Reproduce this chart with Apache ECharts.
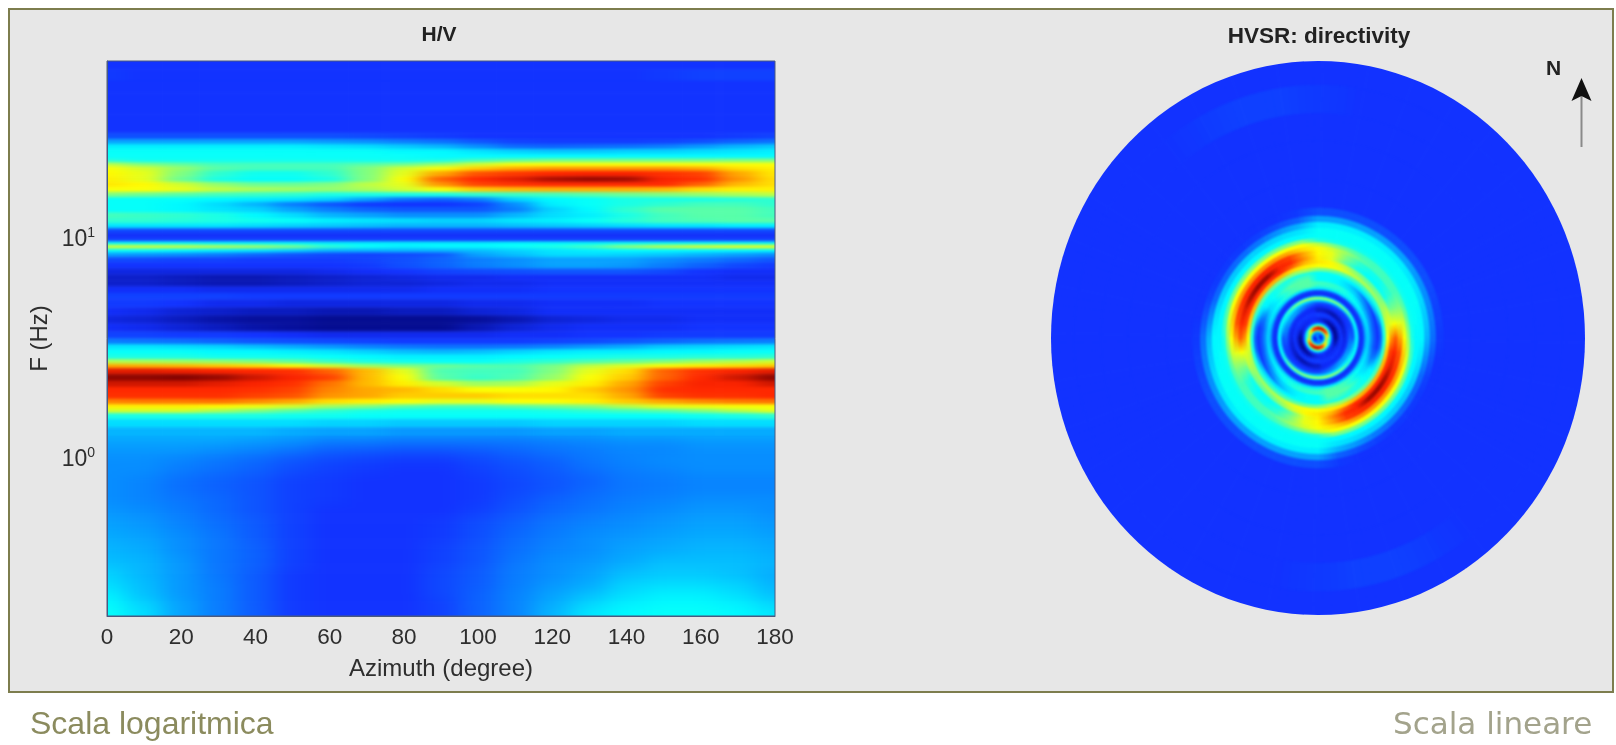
<!DOCTYPE html>
<html><head><meta charset="utf-8">
<style>
html,body{margin:0;padding:0;background:#fff;overflow:hidden}
#main{width:1616px;height:745px}
canvas[data-zr-dom-id="zr_1"]{filter:url(#softRect);clip-path:inset(61px 841px 129px 107px)}
canvas[data-zr-dom-id="zr_2"]{filter:url(#softDisc);clip-path:ellipse(267px 277px at 1318px 338px)}
canvas[data-zr-dom-id="zr_3"]{filter:url(#softLow);clip-path:inset(437px 841px 129px 107px)}
canvas[data-zr-dom-id="zr_5"]{filter:blur(0.7px)}
</style>
<script src="https://cdn.jsdelivr.net/npm/echarts@6/dist/echarts.min.js"></script>
</head><body>
<svg width="0" height="0" style="position:absolute">
<filter id="softRect" x="0" y="0" width="100%" height="100%" color-interpolation-filters="sRGB"><feGaussianBlur stdDeviation="11 1.7"/></filter>
<filter id="softLow" x="0" y="0" width="100%" height="100%" color-interpolation-filters="sRGB"><feGaussianBlur stdDeviation="12 6"/></filter>
<filter id="softDisc" x="0" y="0" width="100%" height="100%" color-interpolation-filters="sRGB"><feGaussianBlur stdDeviation="1.3"/></filter>
</svg>
<div id="main"></div>
<script>
const azimuths=[0,10,20,30,40,50,60,70,80,90,100,110,120,130,140,150,160,170,180];
const freqs=[62,56,49,43.0,31.5,29.2,27.7,26.3,25.0,23.7,22.7,21.8,20.9,19.9,18.6,17.7,16.8,15.9,15.1,14.4,13.6,12.8,12.1,11.5,10.9,10.4,9.95,9.54,9.25,8.87,8.51,8.07,7.58,7.11,6.68,6.28,5.89,5.53,5.09,4.68,4.31,3.96,3.64,3.42,3.24,3.08,2.92,2.77,2.66,2.53,2.35,2.20,2.07,1.94,1.82,1.73,1.66,1.58,1.47,1.33,1.20,1.10,0.995,0.896,0.807,0.726,0.655,0.577,0.504,0.444,0.388,0.342,0.299,0.269,0.242,0.223,0.203];
const xTicks=[0,20,40,60,80,100,120,140,160,180];
const yDecades=[1,10];
const t01=[13,13,13,13,13,13,13,13,13,13,13,13,13,13,13,13,13,13,13];
const t02=[14,13,13,13,13,13,13,13,13,13,13,13,13,13,13,14,15,15,15];
const r01=[13,13,13,13,13,13,13,13,13,13,13,13,13,13,13,13,13,13,13];
const r02=[13,13,13,13,13,13,13,13,13,13,13,13,13,13,13,13,13,13,13];
const r03=[13,13,13,13,13,13,13,13,13,13,13,13,13,13,13,13,13,13,13];
const r04=[17,17,17,17,17,17,17,16,15,14,13,13,13,13,13,13,13,14,15];
const r05=[28,28,28,28,28,28,27,26,24,22,18,15,14,14,14,15,17,20,22];
const r06=[36,36,36,36,36,36,35,34,32,30,26,21,20,21,22,24,27,30,32];
const r07=[38,38,38,38,38,38,38,38,37,37,35,33,32,32,33,33,34,35,36];
const r08=[38,38,38,38,38,38,38,38,38,37,37,37,37,37,37,37,37,37,37];
const r09=[41,39,39,39,39,39,39,39,39,40,44,47,49,49,49,49,49,50,50];
const r10=[56,50,47,44,44,44,44,46,48,52,58,62,62,62,62,62,62,62,62];
const r11=[62,58,52,46,44,44,44,50,58,62,68,72,74,74,74,74,72,66,64];
const r12=[63,60,50,42,39,39,42,50,60,72,82,85,87,88,88,86,84,72,65];
const r13=[64,60,48,40,38,38,40,50,62,80,87,90,95,97,96,88,86,74,66];
const r14=[65,63,58,52,48,48,50,56,60,74,84,86,87,87,87,87,80,70,66];
const r15=[62,62,60,56,54,53,52,54,58,62,68,70,71,71,71,70,66,64,64];
const r16=[50,48,46,44,43,42,40,40,40,40,42,43,44,46,48,50,52,54,56];
const r17=[38,38,38,37,36,35,33,28,22,20,24,33,37,38,40,40,40,41,42];
const r18=[38,38,37,34,30,24,18,14,13,13,15,26,36,38,40,42,44,44,42];
const r19=[38,38,37,35,33,28,24,20,18,18,18,24,33,37,42,46,46,46,44];
const r20=[44,43,42,40,37,34,30,28,26,26,26,30,34,36,40,44,46,46,44];
const r21=[42,42,41,40,39,38,36,35,34,33,33,35,36,38,41,44,45,46,46];
const r22=[35,35,35,35,34,33,32,31,30,30,30,31,32,33,34,35,35,36,36];
const r23=[16,16,16,16,16,16,16,16,16,16,16,16,16,16,16,16,16,16,16];
const r24=[12,12,12,12,12,12,12,12,12,12,12,12,12,12,12,12,12,12,12];
const r25=[14,14,14,14,14,14,14,14,14,14,14,14,14,14,14,14,14,14,14];
const r26=[38,38,38,37,37,37,36,36,36,36,36,37,37,37,38,38,38,38,38];
const r27=[60,59,58,56,54,50,42,38,36,37,37,38,40,44,52,57,60,62,62];
const r28=[38,38,37,36,35,33,30,30,30,30,31,33,35,36,37,37,37,37,37];
const r29=[28,27,26,24,21,18,16,15,16,18,28,31,34,34,33,32,30,28,26];
const r30=[16,16,15,15,14,14,14,15,17,20,24,26,28,28,28,26,24,21,18];
const r31=[13,13,13,13,13,13,13,14,17,20,24,26,28,28,27,24,20,16,14];
const r32=[10,10,10,10,10,10,11,12,13,15,16,17,18,18,18,16,13,12,12];
const r33=[8,8,7,6,6,7,8,9,10,11,11,12,12,12,12,12,12,11,11];
const r34=[8,8,7,6,6,7,8,9,9,10,11,11,12,12,12,12,12,12,12];
const r35=[12,12,12,11,11,11,11,11,11,12,12,12,13,13,13,13,13,13,13];
const r36=[15,15,15,15,14,14,14,14,14,14,14,14,14,14,14,14,14,14,14];
const r37=[14,14,13,11,11,10,10,10,10,10,11,11,12,12,12,13,13,13,13];
const r38=[12,11,9,8,7,7,6,6,7,7,9,10,12,12,12,12,12,12,12];
const r39=[10,9,7,5,4,4,3,3,3,3,4,6,9,10,11,11,12,12,12];
const r40=[12,11,9,7,5,4,3,3,3,3,6,9,11,12,12,12,13,13,13];
const r41=[15,15,14,14,13,12,11,11,11,11,11,12,12,13,13,14,14,14,14];
const r42=[24,23,22,20,18,17,16,15,14,14,14,14,15,16,18,20,22,23,24];
const r43=[35,35,34,33,31,29,27,25,23,22,22,23,25,27,29,32,33,34,35];
const r44=[38,38,38,37,37,36,35,33,31,30,31,33,35,36,36,37,37,38,38];
const r45=[40,40,40,39,39,39,38,37,36,36,36,37,38,39,40,40,41,41,42];
const r46=[55,54,53,52,50,47,43,40,39,38,38,40,42,45,47,50,53,55,58];
const r47=[72,71,70,68,66,62,58,53,50,48,46,45,49,56,59,62,64,66,68];
const r48=[90,90,89,88,87,86,80,70,60,45,44,44,50,60,66,80,86,88,90];
const r49=[98,98,99,97,92,88,84,70,62,46,43,45,52,62,68,80,87,92,98];
const r50=[92,92,92,90,88,86,78,70,64,58,53,54,60,64,72,84,88,88,92];
const r51=[87,87,87,87,86,84,76,72,70,66,62,62,63,68,74,86,87,87,87];
const r52=[86,86,86,86,84,82,74,72,68,68,68,66,66,66,72,84,86,86,87];
const r53=[76,77,77,78,75,72,66,64,62,60,60,62,62,64,68,72,75,77,78];
const r54=[64,64,64,63,61,58,53,50,46,44,44,46,48,50,55,60,61,62,62];
const r55=[58,58,58,54,50,46,42,40,39,39,39,39,40,42,44,46,50,55,60];
const r56=[40,40,40,40,40,39,39,38,38,38,38,38,38,38,38,38,39,40,42];
const r57=[34,34,34,34,34,34,33,33,32,32,32,32,33,33,33,33,34,34,34];
const r58=[30,30,30,30,30,29,28,28,27,27,27,27,28,28,29,29,29,29,29];
const r59=[28,28,28,28,27,26,24,24,23,23,23,23,24,25,26,26,27,27,27];
const r60=[27,27,27,26,25,23,20,19,18,18,19,21,23,24,25,25,26,26,26];
const r61=[26,26,25,23,21,18,16,15,14,14,16,18,20,23,25,26,26,26,26];
const r62=[26,26,24,22,20,17,15,14,13,13,15,17,19,22,24,25,26,26,26];
const r63=[26,25,22,20,18,15,14,13,13,13,14,16,18,20,23,24,25,25,25];
const r64=[26,25,22,20,18,15,14,13,13,13,14,16,18,21,23,24,25,25,25];
const r65=[26,25,23,21,18,15,14,13,13,13,14,17,20,22,24,25,26,26,26];
const r66=[27,26,24,21,18,15,13,13,13,13,15,18,21,23,25,26,27,27,26];
const r67=[28,27,25,22,19,15,13,13,13,14,17,20,23,25,26,27,28,28,27];
const r68=[29,28,26,23,19,15,13,13,13,14,17,21,24,26,27,28,29,29,28];
const r69=[30,29,26,23,20,15,13,13,13,15,18,22,25,26,28,29,30,30,29];
const r70=[31,30,27,23,20,15,13,13,13,15,18,23,26,27,29,31,31,31,30];
const r71=[33,30,27,23,19,14,13,13,13,16,19,24,26,28,31,32,32,31,29];
const r72=[34,31,27,24,19,14,13,13,13,16,19,24,27,29,33,34,34,33,30];
const r73=[36,31,27,24,19,14,13,13,13,16,20,25,28,31,34,36,36,34,31];
const r74=[37,33,28,24,19,14,13,13,13,15,20,25,29,33,36,37,37,36,33];
const r75=[38,34,28,24,19,14,13,13,13,15,20,25,30,35,37,38,38,37,35];
const rows=[t01,t02,r01,r02,r03,r04,r05,r06,r07,r08,r09,r10,r11,r12,r13,r14,r15,r16,r17,r18,r19,r20,r21,r22,r23,r24,r25,r26,r27,r28,r29,r30,r31,r32,r33,r34,r35,r36,r37,r38,r39,r40,r41,r42,r43,r44,r45,r46,r47,r48,r49,r50,r51,r52,r53,r54,r55,r56,r57,r58,r59,r60,r61,r62,r63,r64,r65,r66,r67,r68,r69,r70,r71,r72,r73,r74,r75];
const jet=['#00006e','#1230ff','#0884ff','#00ffff','#80ff80','#ffff00','#ff8c00','#ff2400','#7a0000'];
const fMin=0.1945,fMax=64.5,upperFloor=1.0,lowerCeil=1.5;

// cell edges: halfway (in log frequency) between neighbouring rows
const fHi=freqs.map((f,i)=>i===0?fMax:Math.sqrt(f*freqs[i-1]));
const fLo=freqs.map((f,i)=>i===freqs.length-1?fMin:Math.sqrt(f*freqs[i+1]));
const upperCells=[],lowerCells=[],discCells=[];
rows.forEach((row,i)=>{row.forEach((v,j)=>{
  const az=azimuths[j],cell=[az,freqs[i],v,fLo[i],fHi[i]];
  if(freqs[i]>upperFloor)upperCells.push(cell);
  if(freqs[i]<lowerCeil)lowerCells.push(cell);
  if(az<180){
    const lo=i===freqs.length-1?0:fLo[i],hi=i===0?fMax*1.1:fHi[i];
    discCells.push([az,freqs[i],v,lo,hi]);
    discCells.push([az+180,freqs[i],v,lo,hi]);
  }
});});

const edgeOfUpper=Math.min(...upperCells.map(c=>c[3]));
const edgeOfLower=Math.max(...lowerCells.map(c=>c[4]));
// the outermost cells of each layer run past the plot, so the soft edge falls outside its clip
function rectCell(params,api){
  const az=api.value(0),lo=api.value(3),hi=api.value(4),c=api.visual('color');
  const isUpper=params.seriesIndex===0;
  const a=api.coord([Math.max(az-5,0),hi]),b=api.coord([Math.min(az+5,180),lo]);
  const L=az===0?a[0]-50:a[0],R=az===180?b[0]+50:b[0];
  const T=(isUpper?hi>=fMax:hi===edgeOfLower)?a[1]-40:a[1];
  const B=(isUpper?lo===edgeOfUpper:lo<=fMin)?b[1]+40:b[1];
  return {type:'rect',shape:{x:L,y:T,width:R-L,height:B-T},style:{fill:c,stroke:c,lineWidth:0.6}};
}
// each disc cell is painted in five slightly turned, progressively fainter passes:
// painted over one another they soften the 10-degree steps of the azimuth grid
const turns=[-4,-2,0,2,4];
function discCell(params,api){
  const az=api.value(0),lo=api.value(3),hi=api.value(4),c=api.visual('color');
  const at=(r,d)=>{const t=d*Math.PI/180;return api.coord([r*Math.sin(t),r*Math.cos(t)]);};
  const children=turns.map((turn,n)=>{
    const pts=[];
    for(let k=-5;k<=5;k+=2.5)pts.push(at(hi,az+turn+k));
    for(let k=5;k>=-5;k-=2.5)pts.push(at(lo,az+turn+k));
    return {type:'polygon',z2:n,shape:{points:pts},
      style:n===0?{fill:c,stroke:c,lineWidth:0.8}:{fill:c,opacity:1/(n+1)}};
  });
  return {type:'group',children};
}
const txt='#2e2e2e',sans='"Liberation Sans",Arial,sans-serif';
const chart=echarts.init(document.getElementById('main'),null,{renderer:'canvas'});
chart.setOption({
  animation:false,
  grid:[
    {left:107,top:61,width:668,height:555,show:true,borderColor:'#4a5a80',borderWidth:1,backgroundColor:'transparent',zlevel:5},
    {left:1051,top:61,width:534,height:554,show:false}
  ],
  title:[
    {text:'H/V',left:434,top:20,textAlign:'center',zlevel:5,textStyle:{fontFamily:sans,fontSize:21,fontWeight:'bold',color:'#222'}},
    {text:'HVSR: directivity',left:1314,top:20,textAlign:'center',zlevel:5,textStyle:{fontFamily:sans,fontSize:22.5,fontWeight:'bold',color:'#222'}}
  ],
  xAxis:[
    {type:'value',gridIndex:0,min:0,max:180,interval:20,zlevel:5,
     name:'Azimuth (degree)',nameLocation:'middle',nameGap:41,nameTextStyle:{fontFamily:sans,fontSize:24,color:txt},
     axisLine:{show:true,lineStyle:{color:'#4a5a80',width:1}},axisTick:{show:false},splitLine:{show:false},
     axisLabel:{margin:10,fontFamily:sans,fontSize:22.5,color:txt,hideOverlap:false,customValues:xTicks}},
    {type:'value',gridIndex:1,min:-fMax,max:fMax,show:false}
  ],
  yAxis:[
    {type:'log',logBase:10,gridIndex:0,min:fMin,max:fMax,zlevel:5,
     name:'F (Hz)',nameLocation:'middle',nameGap:55,nameRotate:90,nameTextStyle:{fontFamily:sans,fontSize:24,color:txt},
     axisLine:{show:true,lineStyle:{color:'#4a5a80',width:1}},axisTick:{show:false},splitLine:{show:false},minorTick:{show:false},
     axisLabel:{margin:12,customValues:yDecades,fontFamily:sans,fontSize:23,color:txt,
       formatter:v=>'10{s|'+Math.round(Math.log10(v))+'}',
       rich:{s:{fontFamily:sans,fontSize:14,color:txt,verticalAlign:'bottom',padding:[0,0,12,0]}}}},
    {type:'value',gridIndex:1,min:-fMax,max:fMax,show:false}
  ],
  visualMap:{type:'continuous',show:false,min:0,max:100,dimension:2,seriesIndex:[0,1,2],inRange:{color:jet}},
  series:[
    {type:'custom',name:'H/V',xAxisIndex:0,yAxisIndex:0,zlevel:1,progressive:0,silent:true,encode:{x:0,y:1},data:upperCells,renderItem:rectCell},
    {type:'custom',name:'H/V low',xAxisIndex:0,yAxisIndex:0,zlevel:3,progressive:0,silent:true,encode:{x:0,y:1},data:lowerCells,renderItem:rectCell},
    {type:'custom',name:'HVSR: directivity',xAxisIndex:1,yAxisIndex:1,zlevel:2,progressive:0,silent:true,data:discCells,renderItem:discCell}
  ],
  graphic:[
    {type:'rect',zlevel:0,z:-10,shape:{x:9,y:9,width:1604,height:683},style:{fill:'#e7e7e7',stroke:'#7d7d4e',lineWidth:2}},
    {type:'text',zlevel:5,left:30,top:709,style:{text:'Scala logaritmica',fontFamily:sans,fontSize:32,fill:'#8b8b5e'}},
    {type:'text',zlevel:5,left:1393,top:710,style:{text:'Scala lineare',fontFamily:'"DejaVu Sans",sans-serif',fontSize:31,fill:'#a3a38c'}},
    {type:'text',zlevel:5,left:1546,top:59,style:{text:'N',fontFamily:sans,fontSize:21,fontWeight:'bold',fill:'#222'}},
    {type:'line',zlevel:5,shape:{x1:1581.5,y1:147,x2:1581.5,y2:95},style:{stroke:'#8a8a8a',lineWidth:2}},
    {type:'polygon',zlevel:5,shape:{points:[[1581.5,78],[1591.5,101],[1581.5,96],[1571.5,101]]},style:{fill:'#111'}}
  ]
});
</script>
</body></html>
